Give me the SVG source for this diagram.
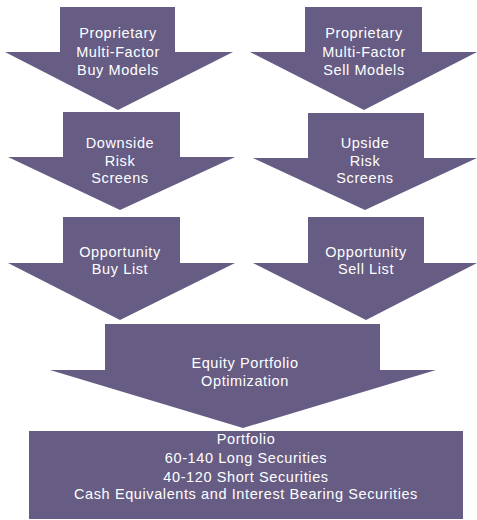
<svg xmlns="http://www.w3.org/2000/svg" width="477" height="520" viewBox="0 0 477 520">
<style>
.s{fill:#665C84;}
.t{fill:#ffffff;font-family:"Liberation Sans",Arial,sans-serif;font-size:14.5px;letter-spacing:0.6px;text-anchor:middle;}
</style>
<rect width="477" height="520" fill="#ffffff"/>
<g id="connectors"></g>
<g id="buy-models">
<polygon class="s" points="60,7 175,7 175,52 233,52 118,110 5,52 60,52"/>
<text class="t" x="118" y="38">Proprietary</text>
<text class="t" x="118" y="57">Multi-Factor</text>
<text class="t" x="118" y="75">Buy Models</text>
</g>
<g id="sell-models">
<polygon class="s" points="305,7 422,7 422,52 477,52 364,110 250,52 305,52"/>
<text class="t" x="364" y="38">Proprietary</text>
<text class="t" x="364" y="57">Multi-Factor</text>
<text class="t" x="364" y="75">Sell Models</text>
</g>
<g id="downside">
<polygon class="s" points="63,112 180,112 180,157 235,157 120,210 8,157 63,157"/>
<text class="t" x="120" y="148">Downside</text>
<text class="t" x="120" y="166">Risk</text>
<text class="t" x="120" y="183">Screens</text>
</g>
<g id="upside">
<polygon class="s" points="308,113 424,113 424,158 477,158 365,210 253,158 308,158"/>
<text class="t" x="365" y="148">Upside</text>
<text class="t" x="365" y="166">Risk</text>
<text class="t" x="365" y="183">Screens</text>
</g>
<g id="buy-list">
<polygon class="s" points="63,217 180,217 180,263 235,263 120,320 8,263 63,263"/>
<text class="t" x="120" y="257">Opportunity</text>
<text class="t" x="120" y="274">Buy List</text>
</g>
<g id="sell-list">
<polygon class="s" points="308,217 424,217 424,263 477,263 366,320 253,263 308,263"/>
<text class="t" x="366" y="257">Opportunity</text>
<text class="t" x="366" y="274">Sell List</text>
</g>
<g id="optimization">
<polygon class="s" points="105,324 380,324 380,370 436,370 243,428 50,370 105,370"/>
<text class="t" x="245" y="368">Equity Portfolio</text>
<text class="t" x="245" y="386">Optimization</text>
</g>
<g id="portfolio">
<rect class="s" x="29" y="431" width="434" height="88"/>
<text class="t" x="246" y="444">Portfolio</text>
<text class="t" x="246" y="463">60-140 Long Securities</text>
<text class="t" x="246" y="482">40-120 Short Securities</text>
<text class="t" x="246" y="499">Cash Equivalents and Interest Bearing Securities</text>
</g>
</svg>
